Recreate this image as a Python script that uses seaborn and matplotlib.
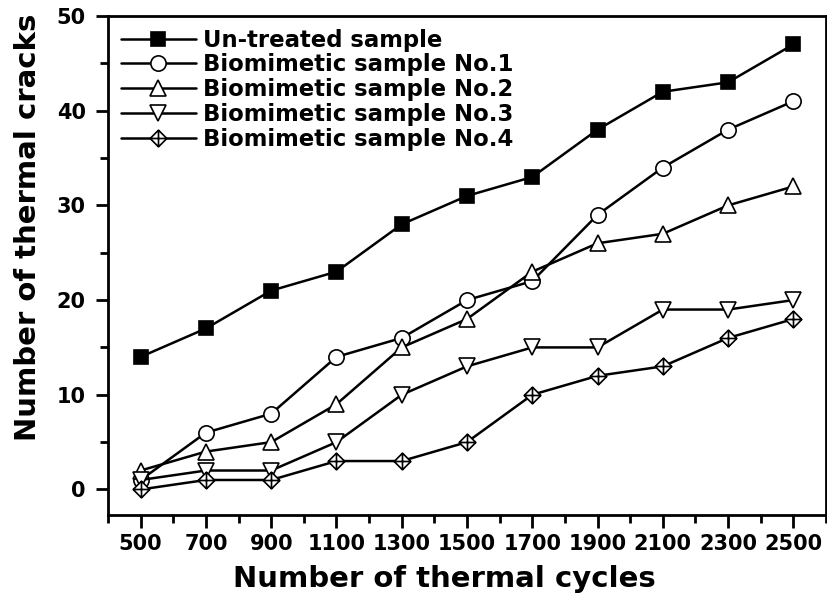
import numpy as np
import pandas as pd
import matplotlib
matplotlib.use("Agg")
import matplotlib.pyplot as plt
from matplotlib.path import Path
from matplotlib.ticker import MultipleLocator
import seaborn as sns

cycles = [500, 700, 900, 1100, 1300, 1500, 1700, 1900, 2100, 2300, 2500]
untreated = [14, 17, 21, 23, 28, 31, 33, 38, 42, 43, 47]
bio1 = [1, 6, 8, 14, 16, 20, 22, 29, 34, 38, 41]
bio2 = [2, 4, 5, 9, 15, 18, 23, 26, 27, 30, 32]
bio3 = [1, 2, 2, 5, 10, 13, 15, 15, 19, 19, 20]
bio4 = [0, 1, 1, 3, 3, 5, 10, 12, 13, 16, 18]
labels = ["Un-treated sample", "Biomimetic sample No.1", "Biomimetic sample No.2",
          "Biomimetic sample No.3", "Biomimetic sample No.4"]

sns.set_style("ticks")
plt.rcParams['font.family'] = ['DejaVu Sans']
plt.rcParams['font.weight'] = 'bold'
for k in ['text.color', 'axes.labelcolor', 'xtick.color', 'ytick.color', 'axes.edgecolor']:
    plt.rcParams[k] = 'black'

crossed_diamond = Path(
    [(0, 1), (1, 0), (0, -1), (-1, 0), (0, 1), (0, 1), (0, -1), (-1, 0), (1, 0)],
    [Path.MOVETO, Path.LINETO, Path.LINETO, Path.LINETO, Path.CLOSEPOLY,
     Path.MOVETO, Path.LINETO, Path.MOVETO, Path.LINETO])

series = [untreated, bio1, bio2, bio3, bio4]
markers = ['s', 'o', '^', 'v', crossed_diamond]
mfc = ['black', 'white', 'white', 'white', 'white']
msizes = [10.5, 11, 12, 12, 12]

fig = plt.figure(figsize=(8.27, 5.93), dpi=100)
ax = fig.add_axes([0.1306, 0.1315, 0.8682, 0.8415])

for vals, lab, mk, fc, ms in zip(series, labels, markers, mfc, msizes):
    df = pd.DataFrame({"cycles": cycles, "cracks": vals})
    sns.lineplot(data=df, x="cycles", y="cracks", ax=ax, color='black', lw=1.8,
                 marker=mk, markersize=ms, markerfacecolor=fc, markeredgecolor='black',
                 markeredgewidth=1.2, label=lab)

ax.set_xlim(400, 2600)
ax.set_ylim(-2.7, 50)
ax.set_xticks(cycles)
ax.xaxis.set_minor_locator(MultipleLocator(100))
ax.yaxis.set_major_locator(MultipleLocator(10))
ax.yaxis.set_minor_locator(MultipleLocator(5))
ax.tick_params(axis='both', which='major', direction='out', length=9, width=2,
               labelsize=15, colors='black')
ax.tick_params(axis='y', which='major', pad=7)
ax.tick_params(axis='x', which='major', pad=5)
ax.tick_params(axis='both', which='minor', direction='out', length=6, width=2,
               colors='black')
for lab in ax.get_xticklabels() + ax.get_yticklabels():
    lab.set_fontweight('bold')
for sp in ax.spines.values():
    sp.set_visible(True)
    sp.set_linewidth(2)
    sp.set_color('black')

ax.set_xlabel("Number of thermal cycles", fontsize=21, fontweight='bold', color='black')
ax.set_ylabel("Number of thermal cracks", fontsize=21, fontweight='bold', color='black')
ax.xaxis.set_label_coords(0.469, -0.10)
ax.yaxis.set_label_coords(-0.092, 0.577)

leg = ax.legend(loc='upper left', frameon=False, handlelength=3.3,
                borderaxespad=0.15, labelspacing=0.08, handletextpad=0.3,
                prop={'weight': 'bold', 'size': 16.4})
for t in leg.get_texts():
    t.set_color('black')

fig.savefig("out.png", dpi=100)
